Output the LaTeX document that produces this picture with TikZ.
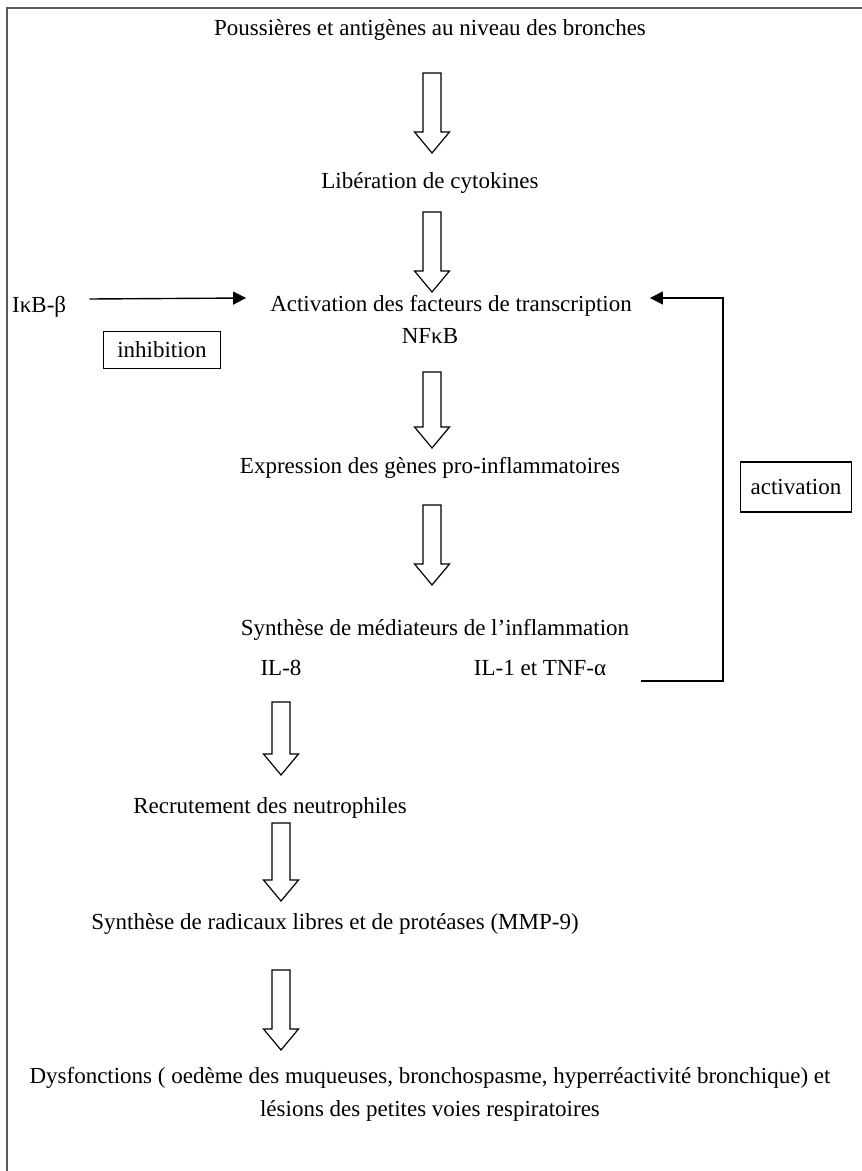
\documentclass[tikz,border=0pt]{standalone}
\usepackage{fontspec}
\setmainfont{Liberation Serif}
\usetikzlibrary{arrows.meta}
\begin{document}
\begin{tikzpicture}[x=1pt,y=-1pt,
  txt/.style={inner sep=0pt,font=\fontsize{23}{28}\selectfont},
  boxed/.style={draw,line width=1.3pt,inner xsep=8pt,inner ysep=6pt,font=\fontsize{23}{28}\selectfont,minimum width=117pt,minimum height=37pt},
  conn/.style={line width=1.4pt,-{Triangle[length=13pt,width=13pt]}},
  pics/barrow/.style={code={
    \draw[line width=1.2pt,fill=white] (-9,0) -- (9,0) -- (9,#1-21) -- (17.5,#1-21) -- (0,#1) -- (-17.5,#1-21) -- (-9,#1-21) -- cycle;}}
]
\useasboundingbox (0,0) rectangle (862,1171);
\draw[line width=2pt,gray!70!black] (7,1171) -- (7,8) -- (862,8);

\node[txt] (t1) at (430,30) {Poussières et antigènes au niveau des bronches};
\pic at (432,73) {barrow=80};
\node[txt] (t2) at (430,183) {Libération de cytokines};
\pic at (432,212) {barrow=80};
\node[txt] (act) at (451,306) {Activation des facteurs de transcription};
\node[txt] (nfkb) at (430,336) {NFκB};
\node[txt,anchor=west] (ikb) at (12,307) {IκB-β};
\node[boxed] (inh) at (162,350) {inhibition};
\pic at (432,372) {barrow=76};
\node[txt] (expr) at (430,468) {Expression des gènes pro-inflammatoires};
\pic at (432,505) {barrow=80};
\node[txt] (synth) at (435,630) {Synthèse de médiateurs de l’inflammation};
\node[txt] (il8) at (281,668) {IL-8};
\node[txt] (il1) at (540,668) {IL-1 et TNF-α};
\node[boxed,minimum width=111pt,minimum height=50pt] (actb) at (796,487) {activation};
\coordinate (fb) at (723,681);

\draw[conn] ([xshift=23pt,yshift=8pt]ikb.east) -- ([xshift=-24pt,yshift=8pt]act.west);
\draw[conn] ([xshift=35pt,yshift=-13pt]il1.east) -- (fb) |- ([xshift=18pt,yshift=8pt]act.east);

\pic at (281,702) {barrow=73};
\node[txt] (rec) at (270,808) {Recrutement des neutrophiles};
\pic at (281,823) {barrow=78};
\node[txt] (rad) at (335,924) {Synthèse de radicaux libres et de protéases (MMP-9)};
\pic at (281,970) {barrow=80};
\node[txt] (dys1) at (430,1078) {Dysfonctions ( oedème des muqueuses, bronchospasme, hyperréactivité bronchique) et};
\node[txt] (dys2) at (430,1111) {lésions des petites voies respiratoires};
\end{tikzpicture}
\end{document}
